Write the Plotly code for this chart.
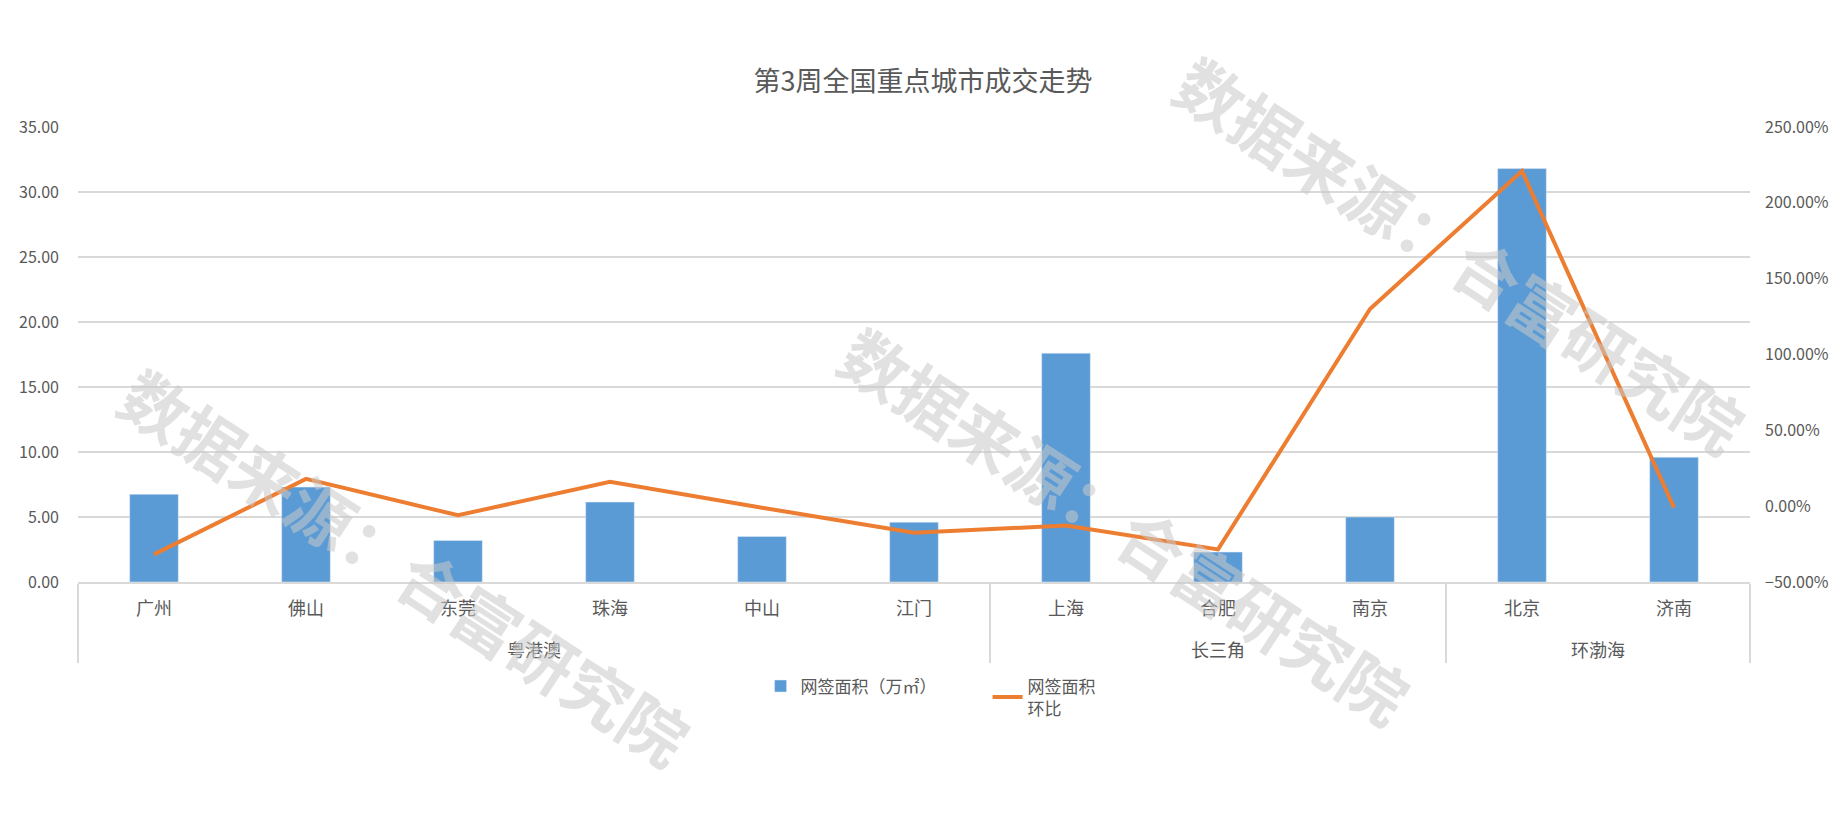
import plotly.graph_objects as go

# category labels
REGIONS = ["粤港澳"] * 6 + ["长三角"] * 3 + ["环渤海"] * 2
CITIES = ["广州", "佛山", "东莞", "珠海", "中山", "江门", "上海", "合肥", "南京", "北京", "济南"]

# 网签面积（万㎡）
AREA = [6.75, 7.3, 3.2, 6.15, 3.5, 4.6, 17.6, 2.3, 5.0, 31.8, 9.6]
# 网签面积环比 (fraction)
MOM = [-0.318, 0.18, -0.06, 0.16, -0.01, -0.175, -0.128, -0.285, 1.30, 2.21, -0.01]

WATERMARK = "数据来源：合富研究院"
FONT = "Noto Sans CJK SC"
GRID = "#D9D9D9"
TXT = "#595959"

# blank first line pushes the region row further below the city row
groups = ["<br>" + g for g in REGIONS]

fig = go.Figure()

fig.add_trace(go.Bar(
    x=[groups, CITIES], y=AREA,
    name="网签面积（万㎡）",
    marker=dict(color="#5B9BD5"),
    hoverinfo="skip",
))
fig.add_trace(go.Scatter(
    x=[groups, CITIES], y=MOM,
    name="网签面积<br>环比",
    mode="lines",
    line=dict(color="#ED7D31", width=4),
    yaxis="y2",
    hoverinfo="skip",
))

# watermark, three copies (centres in plot-area fractions)
for wx, wy in [(0.196, 0.037), (0.627, 0.127), (0.827, 0.722)]:
    fig.add_annotation(
        text=f"<b>{WATERMARK}</b>", xref="paper", yref="paper",
        x=wx, y=wy, xanchor="center", yanchor="middle",
        showarrow=False, textangle=33,
        font=dict(family=FONT, size=66, color="rgba(200,200,200,0.55)"),
    )

# page body has an 8px margin, so the figure is a bit smaller than the window
fig.update_layout(
    title=dict(text="第3周全国重点城市成交走势", x=0.5, xanchor="center",
               y=0.909, yanchor="middle",
               font=dict(family=FONT, size=27, color=TXT)),
    width=1830, height=813,
    margin=dict(l=70, r=88, t=119, b=239, autoexpand=False),
    plot_bgcolor="white", paper_bgcolor="white",
    font=dict(family=FONT, size=17, color=TXT),
    bargap=0.68,
    showlegend=True,
    legend=dict(orientation="h", x=0.544, xanchor="center", y=-0.19, yanchor="top",
                entrywidth=182,
                font=dict(family=FONT, size=17, color=TXT)),
    xaxis=dict(
        type="multicategory", showline=True, linecolor=GRID, linewidth=1.5,
        showdividers=True, dividercolor=GRID, dividerwidth=1.5,
        ticks="", tickfont=dict(size=18, color=TXT), ticklabelstandoff=10,
    ),
    yaxis=dict(
        range=[0, 35], dtick=5, tickformat=".2f", automargin=False,
        showgrid=True, gridcolor=GRID, gridwidth=1.5,
        zeroline=False, ticks="", tickfont=dict(size=16, color=TXT),
        ticklabelstandoff=18,
    ),
    yaxis2=dict(
        range=[-0.5, 2.5], dtick=0.5, tickformat=".2%", automargin=False,
        overlaying="y", side="right", showgrid=False, zeroline=False,
        ticks="", tickfont=dict(size=16, color=TXT),
        ticklabelstandoff=14,
    ),
)

fig.write_html("out.html")
